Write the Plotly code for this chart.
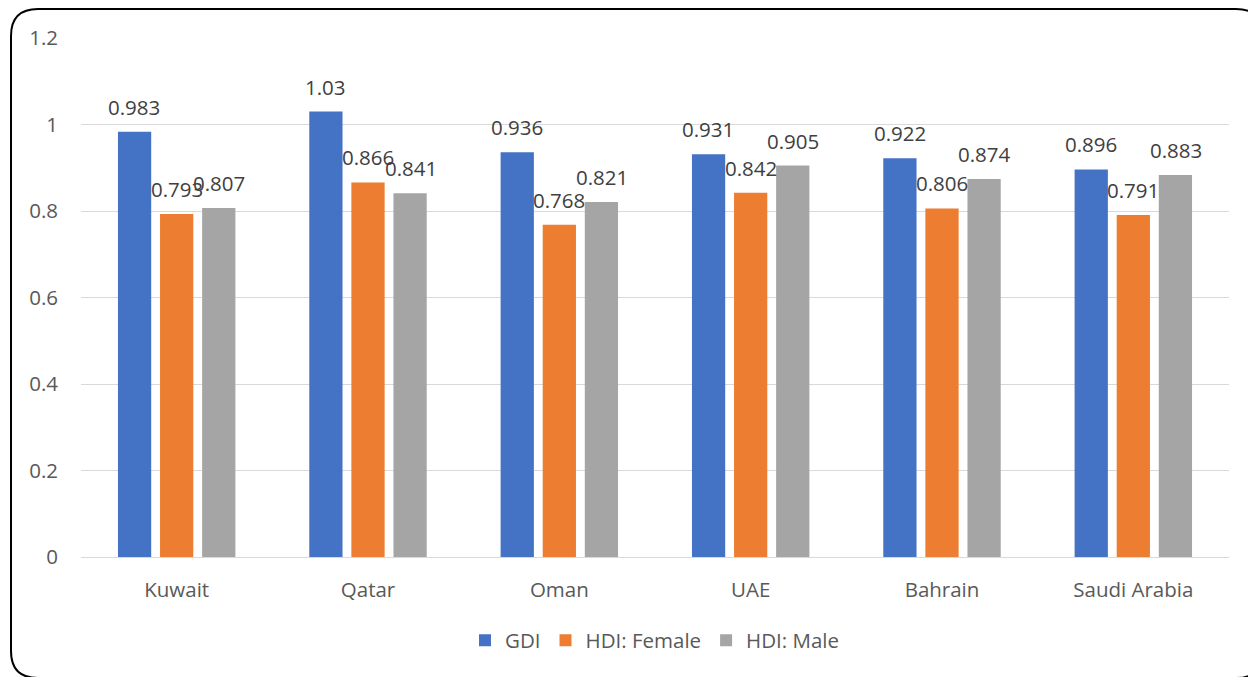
import plotly.graph_objects as go

countries = ["Kuwait", "Qatar", "Oman", "UAE", "Bahrain", "Saudi Arabia"]
gdi = [0.983, 1.03, 0.936, 0.931, 0.922, 0.896]
hdi_female = [0.793, 0.866, 0.768, 0.842, 0.806, 0.791]
hdi_male = [0.807, 0.841, 0.821, 0.905, 0.874, 0.883]
series_names = ["GDI", "HDI: Female", "HDI: Male"]
y_ticks = [0, 0.2, 0.4, 0.6, 0.8, 1.0, 1.2]
y_tick_text = ["0", "0.2", "0.4", "0.6", "0.8", "1", "1.2"]

colors = ["#4472C4", "#ED7D31", "#A5A5A5"]
# page has an 8px body margin, so the figure is sized/offset to fit the window
W, H = 1248, 669
L, R, T, B = 73, 27, 30, 120
FONT = "Open Sans"
FS = 20.5

fig = go.Figure()
for name, vals, c in zip(series_names, [gdi, hdi_female, hdi_male], colors):
    fig.add_trace(go.Bar(x=countries, y=vals, name=name, marker=dict(color=c, line=dict(width=0))))

# data labels
shifts = [-42.5, 0, 42.5]
for vals, sh in zip([gdi, hdi_female, hdi_male], shifts):
    for cat, v in zip(countries, vals):
        fig.add_annotation(x=cat, y=v, xref="x", yref="y", text=f"{v:g}", showarrow=False,
                           xshift=sh, yshift=25, yanchor="middle",
                           font=dict(family=FONT, size=FS, color="#404040"))

# rounded frame in paper coords (right and bottom edges run off the page)
pw, ph = W - L - R, H - T - B
def px(x): return (x - L) / pw
def py(y): return (H - B - y) / ph
x0, x1, y0, y1, r = 3, 1255, 1, 670, 27
path = (f"M {px(x0+r)},{py(y0)} L {px(x1-r)},{py(y0)} Q {px(x1)},{py(y0)} {px(x1)},{py(y0+r)} "
        f"L {px(x1)},{py(y1-r)} Q {px(x1)},{py(y1)} {px(x1-r)},{py(y1)} "
        f"L {px(x0+r)},{py(y1)} Q {px(x0)},{py(y1)} {px(x0)},{py(y1-r)} "
        f"L {px(x0)},{py(y0+r)} Q {px(x0)},{py(y0)} {px(x0+r)},{py(y0)} Z")
fig.add_shape(type="path", path=path, xref="paper", yref="paper",
              line=dict(color="black", width=2), layer="above")

fig.update_layout(
    width=W, height=H,
    margin=dict(l=L, r=R, t=T, b=B),
    paper_bgcolor="white", plot_bgcolor="white",
    barmode="group", bargap=0.34, bargroupgap=0.21,
    font=dict(family=FONT, size=FS, color="#595959"),
    showlegend=True,
    legend=dict(orientation="h", x=0.5, xanchor="center", y=-0.122, yanchor="top",
                font=dict(family=FONT, size=FS, color="#595959"), itemsizing="constant"),
)
fig.update_yaxes(range=[0, 1.2], tickvals=y_ticks, ticktext=y_tick_text,
                 showgrid=True, gridcolor="#D9D9D9", gridwidth=1,
                 zeroline=True, zerolinecolor="#D9D9D9", zerolinewidth=1,
                 showline=False, ticks="", ticklabelstandoff=22,
                 tickfont=dict(family=FONT, size=FS, color="#595959"))
fig.update_xaxes(showgrid=False, showline=False, ticks="", ticklabelstandoff=18,
                 tickfont=dict(family=FONT, size=FS, color="#595959"))

fig.write_html("out.html")
